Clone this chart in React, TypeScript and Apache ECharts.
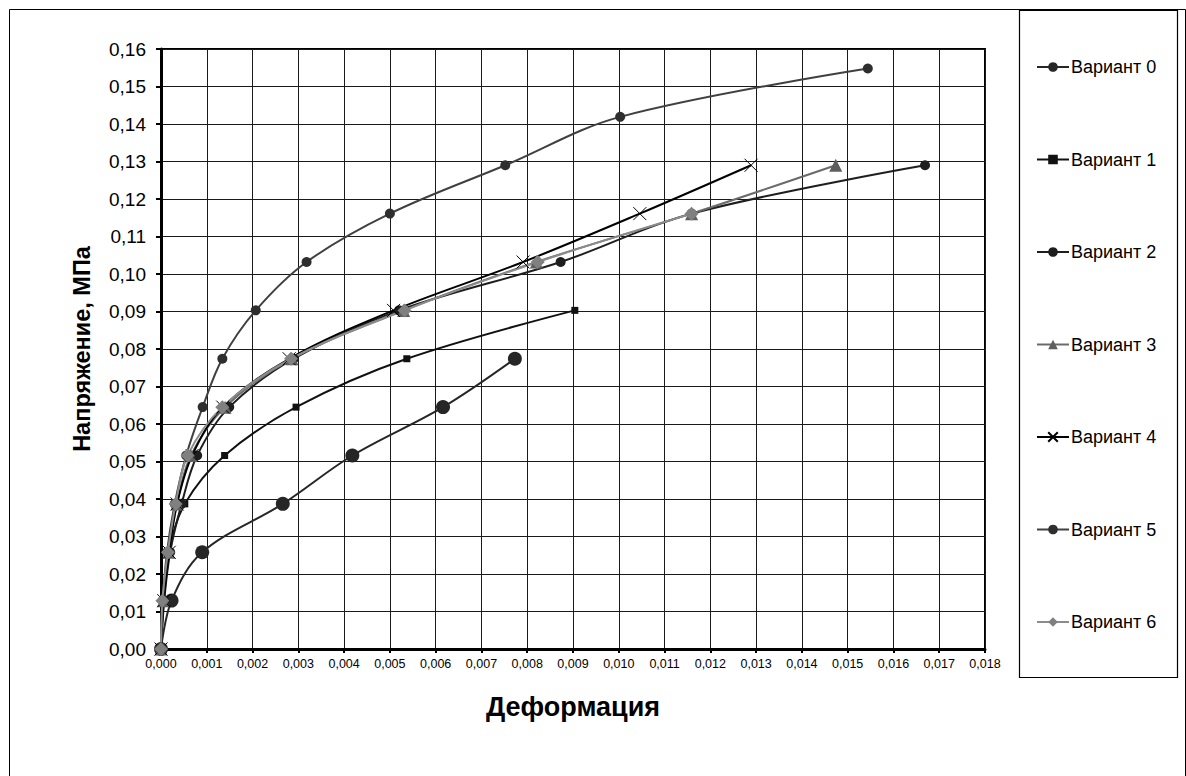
import React, { useEffect, useRef } from "react";
import * as echarts from "echarts";

const STRESS = [0, 0.0129, 0.0258, 0.0387, 0.0516, 0.0645, 0.0774, 0.0903, 0.1032, 0.1161, 0.129, 0.1419, 0.1548];

const SERIES_NAMES = ["Вариант 0", "Вариант 1", "Вариант 2", "Вариант 3", "Вариант 4", "Вариант 5", "Вариант 6"];

const variant0Strain = [0, 0.00023, 0.0009, 0.00266, 0.00418, 0.00616, 0.00773];
const variant1Strain = [0, 0.00005, 0.00017, 0.00052, 0.00139, 0.00295, 0.00537, 0.00904];
const variant2Strain = [0, 0.00007, 0.0002, 0.00045, 0.00079, 0.00149, 0.0029, 0.0052, 0.00873, 0.01159, 0.01669];
const variant3Strain = [0, 0.00005, 0.00017, 0.00035, 0.00065, 0.0014, 0.00286, 0.0053, 0.0082, 0.01159, 0.01474];
const variant4Strain = [0, 0.00006, 0.00018, 0.00035, 0.00068, 0.00135, 0.0028, 0.00508, 0.00791, 0.01046, 0.01289];
const variant5Strain = [0, 0.00004, 0.00013, 0.0003, 0.00055, 0.00091, 0.00134, 0.00207, 0.00318, 0.005, 0.00752, 0.01003, 0.01544];
const variant6Strain = [0, 0.00003, 0.00015, 0.00032, 0.00058, 0.00134, 0.00284, 0.00532, 0.00823, 0.01159];

const STRAINS = [variant0Strain, variant1Strain, variant2Strain, variant3Strain, variant4Strain, variant5Strain, variant6Strain];

const X_TITLE = "Деформация";
const Y_TITLE = "Напряжение, МПа";

const FONT = "'Liberation Sans', Arial, sans-serif";

const STYLES = [
  { line: "#262626", marker: "#262626", symbol: "circle", size: 14 },
  { line: "#111111", marker: "#111111", symbol: "rect", size: 7 },
  { line: "#1e1e1e", marker: "#1e1e1e", symbol: "circle", size: 10 },
  { line: "#6a6a6a", marker: "#5e5e5e", symbol: "triangle", size: 13 },
  { line: "#000000", marker: "none", symbol: "path://M0,0L10,10M10,0L0,10", size: 13 },
  { line: "#404040", marker: "#2e2e2e", symbol: "circle", size: 10 },
  { line: "#8c8c8c", marker: "#808080", symbol: "diamond", size: 14 },
];

export default function App() {
  const ref = useRef<HTMLDivElement>(null);

  useEffect(() => {
    if (!ref.current) return;
    const chart = echarts.init(ref.current, undefined, { renderer: "svg" });

    const series = STRAINS.map((strain, i) => {
      const st = STYLES[i];
      const isX = i === 4;
      return {
        name: SERIES_NAMES[i],
        type: "line",
        smooth: 0.35,
        data: strain.map((x, k) => [x, STRESS[k]]),
        symbol: st.symbol,
        symbolSize: st.size,
        showAllSymbol: true,
        lineStyle: { color: st.line, width: 2 },
        itemStyle: isX
          ? { color: "none", borderColor: "#000", borderWidth: 1 }
          : { color: st.marker, borderColor: st.marker, borderWidth: 0 },
        emphasis: { disabled: true },
      };
    });

    chart.setOption({
      animation: false,
      backgroundColor: "#ffffff",
      textStyle: { fontFamily: FONT },
      grid: {
        left: 161,
        right: 201,
        top: 49,
        bottom: 127,
        show: true,
        borderColor: "#000",
        borderWidth: 2,
        backgroundColor: "transparent",
      },
      legend: {
        orient: "vertical",
        left: 1031,
        top: 53,
        itemWidth: 32,
        itemHeight: 12,
        itemGap: 74.5,
        data: SERIES_NAMES,
        textStyle: { fontFamily: FONT, fontSize: 18, color: "#000", padding: [0, 0, 0, -3] },
      },
      xAxis: {
        type: "value",
        min: 0,
        max: 0.018,
        interval: 0.001,
        name: X_TITLE,
        nameLocation: "middle",
        nameGap: 44,
        nameTextStyle: { fontFamily: FONT, fontSize: 27, fontWeight: "bold", color: "#000" },
        axisLine: { show: true, onZero: false, lineStyle: { color: "#000", width: 3 } },
        axisTick: { show: true, length: 4, lineStyle: { color: "#000", width: 2 } },
        axisLabel: {
          fontFamily: FONT,
          fontSize: 12.5,
          color: "#000",
          margin: 8,
          formatter: (v: number) => v.toFixed(3).replace(".", ","),
        },
        splitLine: { show: true, lineStyle: { color: "#1a1a1a", width: 1 } },
      },
      yAxis: {
        type: "value",
        min: 0,
        max: 0.16,
        interval: 0.01,
        name: Y_TITLE,
        nameLocation: "middle",
        nameGap: 67,
        nameRotate: 90,
        nameTextStyle: { fontFamily: FONT, fontSize: 23.5, fontWeight: "bold", color: "#000" },
        axisLine: { show: true, onZero: false, lineStyle: { color: "#000", width: 3 } },
        axisTick: { show: true, length: 5, lineStyle: { color: "#000", width: 2 } },
        axisLabel: {
          fontFamily: FONT,
          fontSize: 19,
          color: "#000",
          margin: 15,
          formatter: (v: number) => v.toFixed(2).replace(".", ","),
        },
        splitLine: { show: true, lineStyle: { color: "#1a1a1a", width: 1 } },
      },
      graphic: [
        {
          type: "rect",
          shape: { x: 9.5, y: 9.5, width: 1176, height: 820 },
          style: { fill: "none", stroke: "#000", lineWidth: 1 },
          silent: true,
          z: -1,
        },
        {
          type: "rect",
          shape: { x: 1019.5, y: 10.5, width: 158, height: 667 },
          style: { fill: "none", stroke: "#000", lineWidth: 1.2 },
          silent: true,
          z: -1,
        },
      ],
      series,
    });

    return () => chart.dispose();
  }, []);

  return (
    <div
      ref={ref}
      style={{ position: "fixed", left: 0, top: 0, width: 1186, height: 776, background: "#fff" }}
    />
  );
}
